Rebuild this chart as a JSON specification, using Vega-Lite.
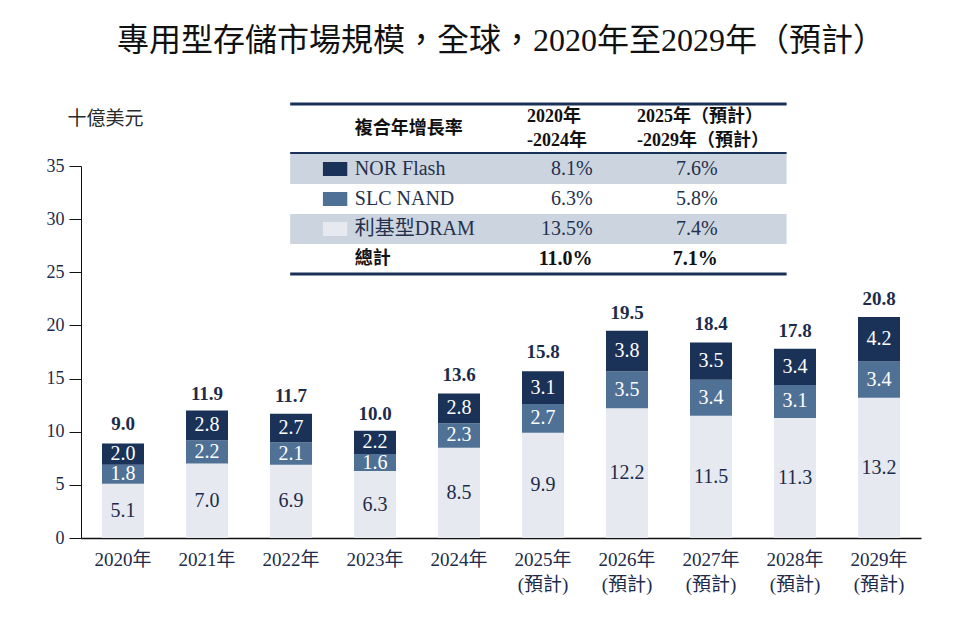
{
  "$schema": "https://vega.github.io/schema/vega-lite/v6.json",
  "width": 840,
  "height": 372,
  "autosize": {"type": "none"},
  "padding": {"left": 81, "top": 166, "right": 48, "bottom": 86},
  "background": "white",
  "config": {"view": {"stroke": null}, "text": {"font": "Liberation Serif, Noto Sans CJK TC"}},
  "title": {
    "text": "專用型存儲市場規模，全球，2020年至2029年（預計）",
    "font": "Liberation Serif, Noto Sans CJK TC",
    "fontSize": 32,
    "fontWeight": "normal",
    "color": "#111111",
    "offset": 44,
    "anchor": "middle"
  },
  "datasets": {
    "market": [
      {"year": "2020年", "series": "利基型DRAM", "value": 5.1},
      {"year": "2020年", "series": "SLC NAND", "value": 1.8},
      {"year": "2020年", "series": "NOR Flash", "value": 2.0},
      {"year": "2021年", "series": "利基型DRAM", "value": 7.0},
      {"year": "2021年", "series": "SLC NAND", "value": 2.2},
      {"year": "2021年", "series": "NOR Flash", "value": 2.8},
      {"year": "2022年", "series": "利基型DRAM", "value": 6.9},
      {"year": "2022年", "series": "SLC NAND", "value": 2.1},
      {"year": "2022年", "series": "NOR Flash", "value": 2.7},
      {"year": "2023年", "series": "利基型DRAM", "value": 6.3},
      {"year": "2023年", "series": "SLC NAND", "value": 1.6},
      {"year": "2023年", "series": "NOR Flash", "value": 2.2},
      {"year": "2024年", "series": "利基型DRAM", "value": 8.5},
      {"year": "2024年", "series": "SLC NAND", "value": 2.3},
      {"year": "2024年", "series": "NOR Flash", "value": 2.8},
      {"year": "2025年(預計)", "series": "利基型DRAM", "value": 9.9},
      {"year": "2025年(預計)", "series": "SLC NAND", "value": 2.7},
      {"year": "2025年(預計)", "series": "NOR Flash", "value": 3.1},
      {"year": "2026年(預計)", "series": "利基型DRAM", "value": 12.2},
      {"year": "2026年(預計)", "series": "SLC NAND", "value": 3.5},
      {"year": "2026年(預計)", "series": "NOR Flash", "value": 3.8},
      {"year": "2027年(預計)", "series": "利基型DRAM", "value": 11.5},
      {"year": "2027年(預計)", "series": "SLC NAND", "value": 3.4},
      {"year": "2027年(預計)", "series": "NOR Flash", "value": 3.5},
      {"year": "2028年(預計)", "series": "利基型DRAM", "value": 11.3},
      {"year": "2028年(預計)", "series": "SLC NAND", "value": 3.1},
      {"year": "2028年(預計)", "series": "NOR Flash", "value": 3.4},
      {"year": "2029年(預計)", "series": "利基型DRAM", "value": 13.2},
      {"year": "2029年(預計)", "series": "SLC NAND", "value": 3.4},
      {"year": "2029年(預計)", "series": "NOR Flash", "value": 4.2}
    ],
    "totals": [
      {"year": "2020年", "total": 9.0},
      {"year": "2021年", "total": 11.9},
      {"year": "2022年", "total": 11.7},
      {"year": "2023年", "total": 10.0},
      {"year": "2024年", "total": 13.6},
      {"year": "2025年(預計)", "total": 15.8},
      {"year": "2026年(預計)", "total": 19.5},
      {"year": "2027年(預計)", "total": 18.4},
      {"year": "2028年(預計)", "total": 17.8},
      {"year": "2029年(預計)", "total": 20.8}
    ],
    "cagr": [
      {"series": "NOR Flash", "cagr2020_2024": 0.081, "cagr2025_2029": 0.076},
      {"series": "SLC NAND", "cagr2020_2024": 0.063, "cagr2025_2029": 0.058},
      {"series": "利基型DRAM", "cagr2020_2024": 0.135, "cagr2025_2029": 0.074},
      {"series": "總計", "cagr2020_2024": 0.110, "cagr2025_2029": 0.071}
    ]
  },
  "layer": [
    {
      "layer": [
        {
          "data": {"name": "market"},
          "transform": [
            {"calculate": "indexof(['利基型DRAM','SLC NAND','NOR Flash'], datum.series)", "as": "stackOrder"}
          ],
          "mark": {"type": "bar"},
          "encoding": {
            "x": {
              "field": "year", "type": "nominal", "sort": null,
              "scale": {"paddingInner": 0.5, "paddingOuter": 0.25},
              "axis": {
                "title": null, "labelAngle": 0, "ticks": false,
                "domainColor": "#111111", "domainWidth": 1.5,
                "labelFont": "Liberation Serif, Noto Sans CJK TC", "labelFontSize": 19,
                "labelColor": "#1c2b4b", "labelPadding": 12, "labelLineHeight": 25,
                "labelExpr": "length(datum.label) > 5 ? [substring(datum.label, 0, 5), substring(datum.label, 5)] : datum.label"
              }
            },
            "y": {
              "field": "value", "type": "quantitative", "stack": "zero",
              "scale": {"domain": [0, 35], "nice": false},
              "axis": {
                "title": "十億美元", "titleAngle": 0, "titleX": 24, "titleY": -48,
                "titleAlign": "center", "titleBaseline": "middle",
                "titleFont": "Noto Sans CJK TC", "titleFontSize": 19, "titleFontWeight": "normal",
                "titleColor": "#2a2a2a",
                "values": [0, 5, 10, 15, 20, 25, 30, 35], "grid": false,
                "labelFont": "Liberation Serif", "labelFontSize": 18, "labelColor": "#1c2b4b",
                "tickColor": "#111111", "tickSize": 12, "domainColor": "#111111",
                "labelPadding": 5
              }
            },
            "color": {
              "field": "series", "type": "nominal",
              "scale": {"domain": ["利基型DRAM", "SLC NAND", "NOR Flash"], "range": ["#e6e9ef", "#4f7195", "#1a3158"]},
              "legend": null
            },
            "order": {"field": "stackOrder", "type": "quantitative", "sort": "ascending"}
          }
        },
        {
          "data": {"name": "market"},
          "transform": [
            {"calculate": "indexof(['利基型DRAM','SLC NAND','NOR Flash'], datum.series)", "as": "stackOrder"},
            {"stack": "value", "groupby": ["year"], "sort": [{"field": "stackOrder", "order": "ascending"}], "as": ["v0", "v1"]},
            {"calculate": "(datum.v0 + datum.v1) / 2", "as": "mid"}
          ],
          "mark": {"type": "text", "fontSize": 20, "baseline": "middle", "font": "Liberation Serif"},
          "encoding": {
            "x": {"field": "year", "type": "nominal", "sort": null},
            "y": {"field": "mid", "type": "quantitative"},
            "text": {"field": "value", "type": "quantitative", "format": ".1f"},
            "color": {"condition": {"test": "datum.series == '利基型DRAM'", "value": "#1c2b4b"}, "value": "#ffffff"}
          }
        },
        {
          "data": {"name": "totals"},
          "mark": {"type": "text", "fontSize": 19, "fontWeight": "bold", "baseline": "middle", "dy": -18, "color": "#1c2b4b", "font": "Liberation Serif"},
          "encoding": {
            "x": {"field": "year", "type": "nominal", "sort": null},
            "y": {"field": "total", "type": "quantitative"},
            "text": {"field": "total", "type": "quantitative", "format": ".1f"}
          }
        }
      ]
    },
    {
      "layer": [
        {
          "data": {"name": "cagr"},
          "transform": [
            {"window": [{"op": "row_number", "as": "row"}]},
            {"filter": "datum.row % 2 == 1"}
          ],
          "mark": {"type": "rule", "strokeWidth": 30, "strokeCap": "butt", "color": "#ccd5df"},
          "encoding": {
            "x": {"datum": 2.49, "type": "quantitative", "scale": {"domain": [0, 10], "nice": false, "zero": false}, "axis": null},
            "x2": {"datum": 8.4},
            "y": {"field": "row", "type": "quantitative", "scale": {"domain": [0.9, 13.3], "reverse": true, "nice": false, "zero": false}, "axis": null}
          }
        },
        {
          "data": {"values": [{}]},
          "mark": {"type": "rule", "strokeWidth": 3, "color": "#1a3158"},
          "encoding": {"x": {"datum": 2.49}, "x2": {"datum": 8.4}, "y": {"datum": -1.167}}
        },
        {
          "data": {"values": [{}]},
          "mark": {"type": "rule", "strokeWidth": 1.8, "color": "#1a3158"},
          "encoding": {"x": {"datum": 2.49}, "x2": {"datum": 8.4}, "y": {"datum": 0.467}}
        },
        {
          "data": {"values": [{}]},
          "mark": {"type": "rule", "strokeWidth": 3, "color": "#1a3158"},
          "encoding": {"x": {"datum": 2.49}, "x2": {"datum": 8.4}, "y": {"datum": 4.5}}
        },
        {
          "data": {"values": [{}]},
          "mark": {"type": "text", "align": "left", "baseline": "middle", "fontSize": 18, "fontWeight": "bold", "font": "Noto Sans CJK TC", "color": "#111111"},
          "encoding": {"x": {"datum": 3.26}, "y": {"datum": -0.333}, "text": {"value": "複合年增長率"}}
        },
        {
          "data": {"values": [{}]},
          "mark": {"type": "text", "align": "left", "baseline": "middle", "fontSize": 18, "fontWeight": "bold", "lineHeight": 24, "color": "#111111", "font": "Liberation Serif, Noto Sans CJK TC"},
          "encoding": {"x": {"datum": 5.31}, "y": {"datum": -0.733}, "text": {"value": ["2020年", "-2024年"]}}
        },
        {
          "data": {"values": [{}]},
          "mark": {"type": "text", "align": "left", "baseline": "middle", "fontSize": 18, "fontWeight": "bold", "lineHeight": 24, "color": "#111111", "font": "Liberation Serif, Noto Sans CJK TC"},
          "encoding": {"x": {"datum": 6.62}, "y": {"datum": -0.733}, "text": {"value": ["2025年（預計）", "-2029年（預計）"]}}
        },
        {
          "data": {"name": "cagr"},
          "transform": [
            {"window": [{"op": "row_number", "as": "row"}]},
            {"filter": "datum.series != '總計'"}
          ],
          "mark": {"type": "rule", "strokeWidth": 14, "strokeCap": "butt"},
          "encoding": {
            "x": {"datum": 2.88}, "x2": {"datum": 3.17},
            "y": {"field": "row", "type": "quantitative"},
            "color": {"field": "series", "type": "nominal", "scale": {"domain": ["利基型DRAM", "SLC NAND", "NOR Flash"], "range": ["#e6e9ef", "#4f7195", "#1a3158"]}, "legend": null}
          }
        },
        {
          "data": {"name": "cagr"},
          "transform": [
            {"window": [{"op": "row_number", "as": "row"}]},
            {"filter": "datum.series != '總計'"}
          ],
          "mark": {"type": "text", "align": "left", "baseline": "middle", "fontSize": 20, "color": "#25304d", "font": "Liberation Serif, Noto Sans CJK TC"},
          "encoding": {"x": {"datum": 3.26}, "y": {"field": "row", "type": "quantitative"}, "text": {"field": "series"}}
        },
        {
          "data": {"name": "cagr"},
          "transform": [
            {"window": [{"op": "row_number", "as": "row"}]},
            {"filter": "datum.series != '總計'"}
          ],
          "mark": {"type": "text", "align": "right", "baseline": "middle", "fontSize": 20, "color": "#25304d", "font": "Liberation Serif"},
          "encoding": {"x": {"datum": 6.09}, "y": {"field": "row", "type": "quantitative"}, "text": {"field": "cagr2020_2024", "type": "quantitative", "format": ".1%"}}
        },
        {
          "data": {"name": "cagr"},
          "transform": [
            {"window": [{"op": "row_number", "as": "row"}]},
            {"filter": "datum.series != '總計'"}
          ],
          "mark": {"type": "text", "align": "right", "baseline": "middle", "fontSize": 20, "color": "#25304d", "font": "Liberation Serif"},
          "encoding": {"x": {"datum": 7.58}, "y": {"field": "row", "type": "quantitative"}, "text": {"field": "cagr2025_2029", "type": "quantitative", "format": ".1%"}}
        },
        {
          "data": {"name": "cagr"},
          "transform": [
            {"window": [{"op": "row_number", "as": "row"}]},
            {"filter": "datum.series == '總計'"}
          ],
          "mark": {"type": "text", "align": "left", "baseline": "middle", "fontSize": 18, "fontWeight": "bold", "color": "#111111", "font": "Noto Sans CJK TC"},
          "encoding": {"x": {"datum": 3.26}, "y": {"field": "row", "type": "quantitative"}, "text": {"field": "series"}}
        },
        {
          "data": {"name": "cagr"},
          "transform": [
            {"window": [{"op": "row_number", "as": "row"}]},
            {"filter": "datum.series == '總計'"}
          ],
          "mark": {"type": "text", "align": "right", "baseline": "middle", "fontSize": 20, "fontWeight": "bold", "color": "#111111", "font": "Liberation Serif"},
          "encoding": {"x": {"datum": 6.09}, "y": {"field": "row", "type": "quantitative"}, "text": {"field": "cagr2020_2024", "type": "quantitative", "format": ".1%"}}
        },
        {
          "data": {"name": "cagr"},
          "transform": [
            {"window": [{"op": "row_number", "as": "row"}]},
            {"filter": "datum.series == '總計'"}
          ],
          "mark": {"type": "text", "align": "right", "baseline": "middle", "fontSize": 20, "fontWeight": "bold", "color": "#111111", "font": "Liberation Serif"},
          "encoding": {"x": {"datum": 7.58}, "y": {"field": "row", "type": "quantitative"}, "text": {"field": "cagr2025_2029", "type": "quantitative", "format": ".1%"}}
        }
      ]
    }
  ],
  "resolve": {"scale": {"x": "independent", "y": "independent"}, "axis": {"x": "independent", "y": "independent"}}
}
